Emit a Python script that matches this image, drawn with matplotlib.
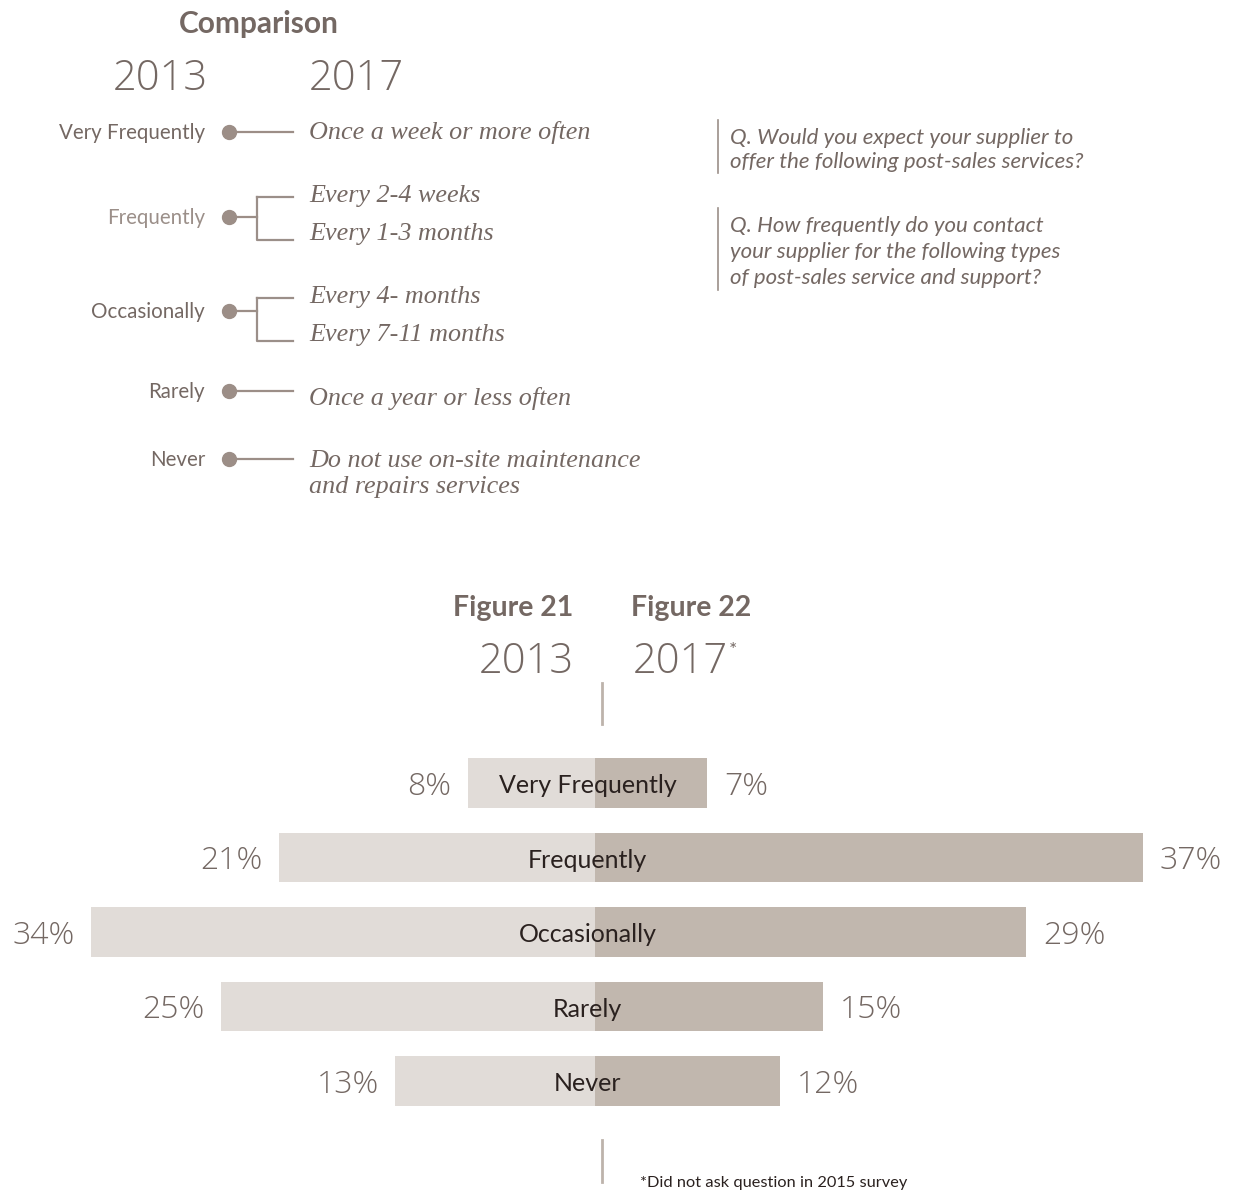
import matplotlib
matplotlib.use("Agg")
import matplotlib.pyplot as plt

# data
categories = ["Very Frequently", "Frequently", "Occasionally", "Rarely", "Never"]
pct_2013 = [8, 21, 34, 25, 13]
pct_2017 = [7, 37, 29, 15, 12]

left_labels = ["Very Frequently", "Frequently", "Occasionally", "Rarely", "Never"]
right_groups = [["Once a week or more often"],
                ["Every 2-4 weeks", "Every 1-3 months"],
                ["Every 4- months", "Every 7-11 months"],
                ["Once a year or less often"],
                ["Do not use on-site maintenance\nand repairs services"]]

questions = ["Q. Would you expect your supplier to\noffer the following post-sales services?",
             "Q. How frequently do you contact\nyour supplier for the following types\nof post-sales service and support?"]

TXT = "#746863"
LIGHT = "#9b8f89"
DOT = "#9c8e87"
C13 = "#e1dcd8"
C17 = "#c1b7ae"
DARK = "#2a211f"
SANS = "Lato"
NUM = "Open Sans"
SERIF = "Liberation Serif"

fig = plt.figure(figsize=(12.33, 11.93), dpi=100)

# pixel canvas for the comparison diagram
ax = fig.add_axes([0, 0, 1, 1])
ax.set_xlim(0, 1233)
ax.set_ylim(1193, 0)
ax.axis("off")

ax.text(259, 24, "Comparison", ha="center", va="center", fontsize=21.5,
        fontweight="bold", color=TXT, family=SANS)
ax.text(160, 79, "2013", ha="center", va="center", fontsize=30,
        fontweight="light", color=TXT, family=NUM)
ax.text(309, 79, "2017", ha="left", va="center", fontsize=30,
        fontweight="light", color=TXT, family=NUM)

dot_y = [132, 217, 311, 391, 459]
text_y = [[133], [196, 234], [297, 335], [398], [474]]
label_cols = [TXT, LIGHT, TXT, TXT, TXT]
for lab, dy, grp, ty, col in zip(left_labels, dot_y, right_groups, text_y, label_cols):
    ax.text(205, dy + 1, lab, ha="right", va="center", fontsize=14.8, color=col,
            family=SANS)
    ax.plot([229], [dy], "o", ms=10, color=DOT, zorder=3)
    if len(grp) == 1:
        ax.plot([229, 293], [dy, dy], color=DOT, lw=1.6)
    else:
        ax.plot([229, 257], [dy, dy], color=DOT, lw=1.6)
        ax.plot([257, 257, 293], [ty[0] + 1, ty[1] + 6, ty[1] + 6], color=LIGHT, lw=1.6)
        ax.plot([257, 293], [ty[0] + 1, ty[0] + 1], color=LIGHT, lw=1.6)
    for t, y in zip(grp, ty):
        ax.text(309, y, t, ha="left", va="center", fontsize=18.8, style="italic",
                color=TXT, family=SERIF, linespacing=1.25)

# question notes
ax.plot([718, 718], [120, 173], color=LIGHT, lw=1.2)
ax.plot([718, 718], [208, 290], color=LIGHT, lw=1.2)
ax.text(730, 150, questions[0], ha="left", va="center", fontsize=16,
        style="italic", color=TXT, family=SANS, linespacing=1.3)
ax.text(730, 252, questions[1], ha="left", va="center", fontsize=16,
        style="italic", color=TXT, family=SANS, linespacing=1.35)

# figure headings
ax.text(513, 608, "Figure 21", ha="center", va="center", fontsize=20.5,
        fontweight="bold", color=TXT, family=SANS)
ax.text(691, 608, "Figure 22", ha="center", va="center", fontsize=20.5,
        fontweight="bold", color=TXT, family=SANS)
ax.text(574, 662, "2013", ha="right", va="center", fontsize=30,
        fontweight="light", color=TXT, family=NUM)
t17 = ax.text(633, 662, "2017", ha="left", va="center", fontsize=30,
              fontweight="light", color=TXT, family=NUM)
fig.canvas.draw()
bb = t17.get_window_extent()
star_x = ax.transData.inverted().transform((bb.x1, bb.y1))[0]
ax.text(star_x + 1, 650, "*", ha="left", va="center", fontsize=14, color=TXT,
        family=SANS)
ax.plot([602, 602], [683, 724], color="#bdb3ab", lw=2)
ax.plot([602, 602], [1140, 1182], color="#bdb3ab", lw=2)
ax.text(640, 1183, "*Did not ask question in 2015 survey", ha="left",
        va="center", fontsize=11.8, color=DARK, family=SANS)

# butterfly bars
bx = fig.add_axes([0, 0, 1, 1])
bx.patch.set_alpha(0)
px = 14.5
BASE = 11 / px  # bars carry a small fixed stub past the centre line
bx.set_xlim(-595 / px, (1233 - 595) / px)
row = 74.5
bx.set_ylim((1193 - 783) / row, -783 / row)
bx.axis("off")

rows = list(range(len(categories)))
bx.barh(rows, [-(v + BASE) for v in pct_2013], height=0.67, color=C13)
bx.barh(rows, [v + BASE for v in pct_2017], height=0.67, color=C17)
for i, cat in enumerate(categories):
    bx.text(-0.5, i + 0.04, cat, ha="center", va="center", fontsize=18, color=DARK,
            family=SANS)
    bx.text(-pct_2013[i] - BASE - 1.15, i + 0.05, f"{pct_2013[i]}%", ha="right",
            va="center", fontsize=23, fontweight="light", color=TXT, family=NUM)
    bx.text(pct_2017[i] + BASE + 1.15, i + 0.05, f"{pct_2017[i]}%", ha="left",
            va="center", fontsize=23, fontweight="light", color=TXT, family=NUM)

fig.savefig("out.png", dpi=100)
